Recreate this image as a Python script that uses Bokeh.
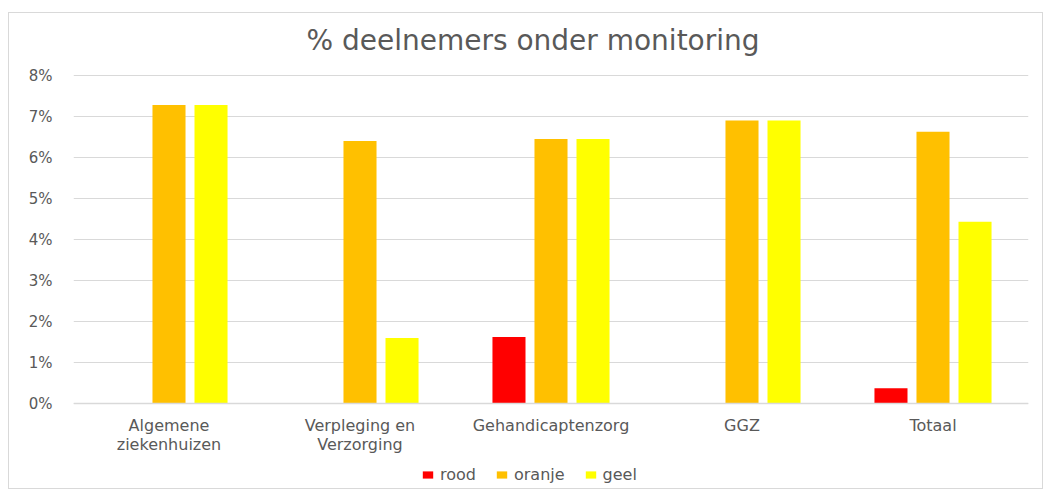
from bokeh.plotting import figure
from bokeh.models import (FactorRange, Range1d, ColumnDataSource, Legend, LegendItem,
                          PrintfTickFormatter, FixedTicker, Label)
from bokeh.transform import dodge
from bokeh.embed import file_html
from bokeh.resources import INLINE

title_text = "% deelnemers onder monitoring"
categories = ["Algemene\nziekenhuizen", "Verpleging en\nVerzorging", "Gehandicaptenzorg", "GGZ", "Totaal"]
rood = [0.0, 0.0, 1.62, 0.0, 0.37]
oranje = [7.28, 6.40, 6.45, 6.90, 6.63]
geel = [7.28, 1.60, 6.45, 6.90, 4.43]
series_names = ["rood", "oranje", "geel"]
colors = ["#FF0000", "#FFC000", "#FFFF00"]
y_ticks = [0, 1, 2, 3, 4, 5, 6, 7, 8]

src = ColumnDataSource(dict(cat=categories, rood=rood, oranje=oranje, geel=geel))

FONT = "DejaVu Sans"
GREY = "#595959"

# frame spans whole chart box; 41 px per percent; extra room above (title) and below (labels, legend)
PX = 41.0
Y_TOP = 8 + 62 / PX
Y_BOTTOM = -85 / PX
p = figure(x_range=FactorRange(factors=categories), y_range=Range1d(Y_BOTTOM, Y_TOP),
           frame_width=955, frame_height=475, output_backend="svg", toolbar_location=None,
           min_border_left=64, min_border_right=14, min_border_top=0, min_border_bottom=0)
p.styles = {"border": "1px solid #d9d9d9", "margin-left": "8px", "margin-top": "12px"}

bar_w = 0.173
offs = [-0.22, 0.0, 0.22]
renderers = []
for name, col, off in zip(series_names, colors, offs):
    r = p.vbar(x=dodge("cat", off, range=p.x_range), top=name, width=bar_w, source=src,
               fill_color=col, line_color=None)
    renderers.append(r)

title = Label(x=2.5 - 18 / 191, y=(403 - 40) / PX, text=title_text,
              text_align="center", text_baseline="middle",
              text_font=FONT, text_font_size="28px", text_color=GREY)
p.add_layout(title)

p.yaxis.ticker = FixedTicker(ticks=y_ticks)
p.yaxis.formatter = PrintfTickFormatter(format="%d%%")
p.yaxis.axis_line_color = None
p.yaxis.major_tick_line_color = None
p.yaxis.minor_tick_line_color = None
p.yaxis.major_label_text_font = FONT
p.yaxis.major_label_text_font_size = "15px"
p.yaxis.major_label_text_color = GREY
p.yaxis.major_label_standoff = 15

p.xaxis.fixed_location = 0
p.xaxis.axis_line_color = "#d9d9d9"
p.xaxis.axis_line_width = 1.5
p.xaxis.major_tick_line_color = None
p.xaxis.minor_tick_line_color = None
p.xaxis.major_label_text_font = FONT
p.xaxis.major_label_text_font_size = "16px"
p.xaxis.major_label_text_line_height = 1.05
p.xaxis.major_label_text_color = GREY
p.xaxis.major_label_standoff = 6

p.xgrid.grid_line_color = None
p.ygrid.grid_line_color = "#d9d9d9"
p.ygrid.grid_line_width = 1.2
p.outline_line_color = None

legend = Legend(items=[LegendItem(label=n, renderers=[r]) for n, r in zip(series_names, renderers)],
                orientation="horizontal", location=(348, 4),
                label_text_font=FONT, label_text_font_size="16px", label_text_color=GREY,
                glyph_width=13, glyph_height=9, spacing=19, label_standoff=6,
                border_line_color=None, background_fill_alpha=0, margin=0, padding=0)
p.add_layout(legend, "center")

open("out.html", "w").write(file_html(p, INLINE))
